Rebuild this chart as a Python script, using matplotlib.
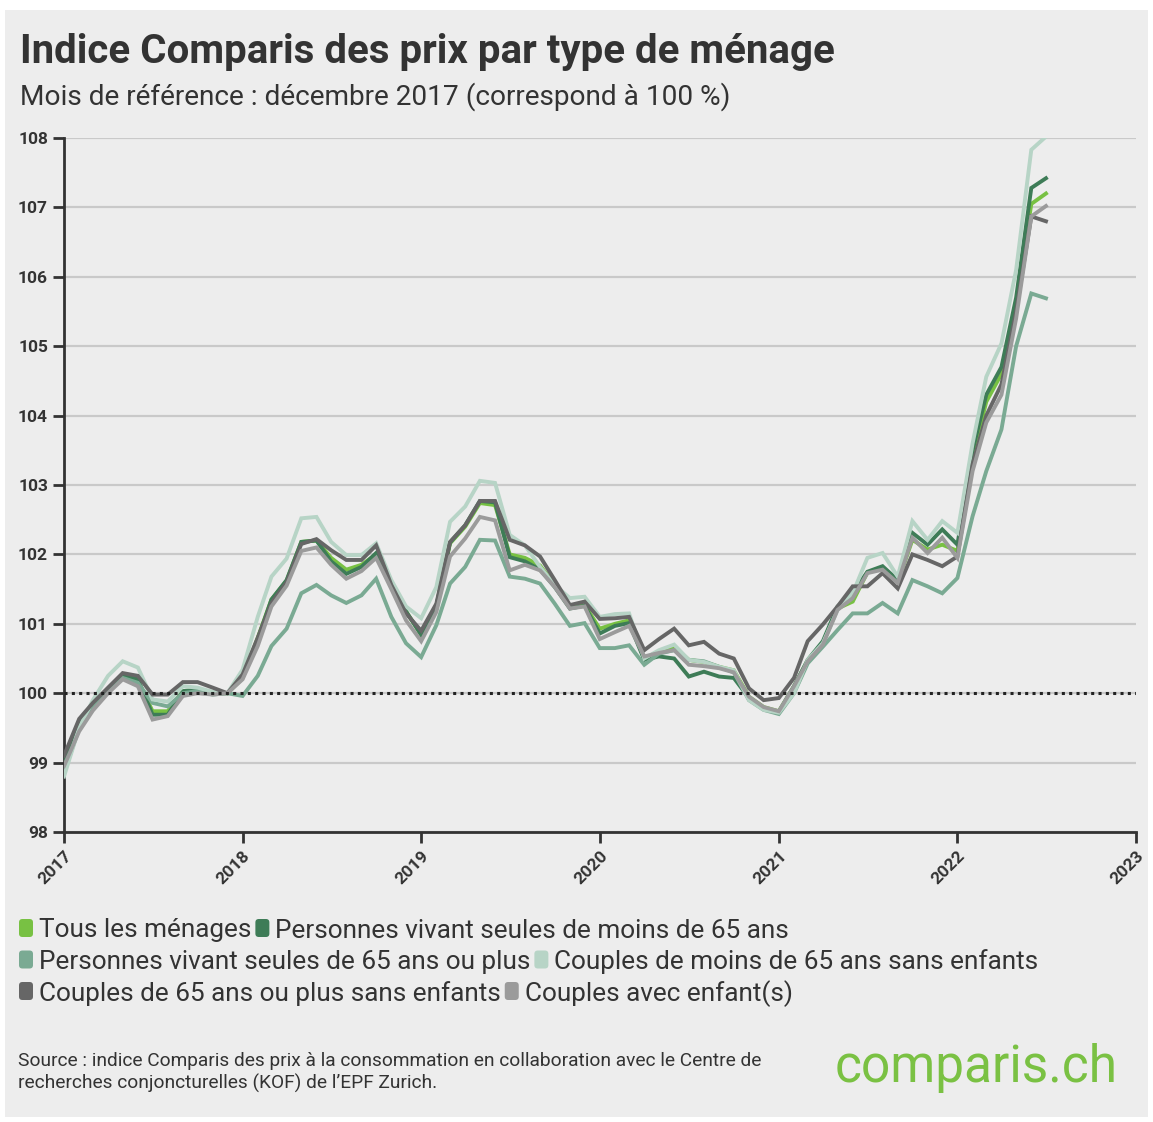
import matplotlib.pyplot as plt
import matplotlib.dates as mdates
from matplotlib.patches import Rectangle, FancyBboxPatch
import pandas as pd

plt.rcParams['font.family'] = ['Roboto', 'DejaVu Sans']

# monthly index, Jan 2017 .. Jul 2022 (Dec 2017 = 100)
months = pd.date_range('2017-01-01', '2022-07-01', freq='MS')

tous = [99.0, 99.55, 99.82, 100.05, 100.27, 100.18, 99.74, 99.74, 100.03, 100.05, 100.0, 100.0,
        100.22, 100.8, 101.35, 101.62, 102.18, 102.2, 101.95, 101.78, 101.85, 102.0, 101.55, 101.18,
        100.84, 101.25, 102.16, 102.4, 102.74, 102.71, 102.0, 101.95, 101.84, 101.56, 101.25, 101.27,
        100.93, 101.0, 101.05, 100.5, 100.6, 100.67, 100.48, 100.45, 100.38, 100.33, 99.95, 99.8,
        99.74, 100.1, 100.47, 100.72, 101.22, 101.32, 101.74, 101.8, 101.6, 102.21, 102.07, 102.14,
        102.05, 103.4, 104.2, 104.6, 105.6, 107.05, 107.2]
seules_moins65 = [99.0, 99.55, 99.82, 100.05, 100.27, 100.2, 99.69, 99.69, 100.03, 100.05, 100.0, 100.0,
                  100.22, 100.78, 101.35, 101.63, 102.18, 102.2, 101.9, 101.72, 101.82, 102.02, 101.55, 101.18,
                  100.84, 101.26, 102.17, 102.42, 102.77, 102.75, 101.96, 101.9, 101.78, 101.53, 101.22, 101.26,
                  100.86, 100.97, 101.01, 100.48, 100.53, 100.5, 100.24, 100.31, 100.24, 100.22, 99.93, 99.78,
                  99.73, 100.1, 100.48, 100.75, 101.25, 101.44, 101.75, 101.83, 101.63, 102.31, 102.14, 102.36,
                  102.14, 103.5, 104.3, 104.7, 105.7, 107.28, 107.42]
seules_65plus = [98.85, 99.5, 99.8, 100.03, 100.22, 100.15, 99.86, 99.81, 100.0, 100.03, 99.98, 100.0,
                 99.96, 100.25, 100.68, 100.93, 101.44, 101.56, 101.41, 101.3, 101.41, 101.65, 101.1, 100.72,
                 100.52, 100.98, 101.58, 101.82, 102.21, 102.2, 101.68, 101.65, 101.58, 101.29, 100.97, 101.01,
                 100.65, 100.65, 100.69, 100.41, 100.57, 100.62, 100.48, 100.46, 100.38, 100.3, 99.9, 99.76,
                 99.7, 100.0, 100.43, 100.67, 100.91, 101.15, 101.15, 101.3, 101.15, 101.63, 101.54, 101.44,
                 101.66, 102.55, 103.2, 103.8, 105.0, 105.76, 105.69]
couples_moins65 = [98.8, 99.5, 99.9, 100.25, 100.46, 100.37, 99.91, 99.88, 100.1, 100.08, 100.02, 100.0,
                   100.34, 101.1, 101.68, 101.94, 102.52, 102.54, 102.18, 101.99, 101.99, 102.16, 101.63, 101.25,
                   101.08, 101.53, 102.47, 102.69, 103.06, 103.03, 102.28, 102.13, 101.82, 101.56, 101.37, 101.39,
                   101.1, 101.14, 101.15, 100.5, 100.62, 100.7, 100.48, 100.45, 100.38, 100.33, 99.9, 99.76,
                   99.72, 100.0, 100.48, 100.72, 101.2, 101.44, 101.95, 102.02, 101.68, 102.48, 102.21, 102.48,
                   102.31, 103.6, 104.56, 105.04, 106.1, 107.83, 108.02]
couples_65plus = [99.1, 99.63, 99.86, 100.08, 100.29, 100.25, 99.98, 99.98, 100.16, 100.16, 100.08, 100.0,
                  100.27, 100.8, 101.3, 101.6, 102.15, 102.22, 102.06, 101.92, 101.92, 102.13, 101.56, 101.15,
                  100.9, 101.29, 102.18, 102.42, 102.77, 102.77, 102.21, 102.13, 101.97, 101.63, 101.27, 101.32,
                  101.07, 101.08, 101.1, 100.62, 100.78, 100.93, 100.69, 100.74, 100.57, 100.5, 100.07, 99.9,
                  99.93, 100.22, 100.75, 100.99, 101.25, 101.54, 101.54, 101.73, 101.51, 102.0, 101.92, 101.83,
                  101.97, 103.3, 104.0, 104.45, 105.5, 106.87, 106.8]
couples_enfants = [98.95, 99.45, 99.75, 100.0, 100.2, 100.1, 99.62, 99.67, 99.96, 100.0, 99.98, 100.0,
                   100.2, 100.68, 101.25, 101.55, 102.05, 102.1, 101.85, 101.65, 101.76, 101.95, 101.5, 101.05,
                   100.75, 101.17, 101.97, 102.23, 102.54, 102.49, 101.77, 101.85, 101.77, 101.53, 101.22, 101.25,
                   100.78, 100.88, 100.97, 100.53, 100.58, 100.62, 100.41, 100.39, 100.36, 100.3, 99.95, 99.8,
                   99.74, 100.1, 100.46, 100.7, 101.2, 101.37, 101.73, 101.78, 101.59, 102.24, 102.02, 102.24,
                   101.95, 103.2, 103.9, 104.3, 105.4, 106.87, 107.02]

labels = ['Tous les ménages', 'Personnes vivant seules de moins de 65 ans',
          'Personnes vivant seules de 65 ans ou plus', 'Couples de moins de 65 ans sans enfants',
          'Couples de 65 ans ou plus sans enfants', 'Couples avec enfant(s)']
colors = ['#78c143', '#3e7c57', '#7aaa93', '#b7d4c6', '#666666', '#9b9b9b']
series = [tous, seules_moins65, seules_65plus, couples_moins65, couples_65plus, couples_enfants]

W, H = 1153, 1122
fig = plt.figure(figsize=(W / 100, H / 100), dpi=100, facecolor='white')
fig.patches.append(Rectangle((5 / W, 5 / H), 1143 / W, 1107 / H, transform=fig.transFigure,
                             facecolor='#ededed', edgecolor='none', zorder=-10))

ax = fig.add_axes([64 / W, 1 - 832 / H, (1136 - 64) / W, (832 - 138) / H])
ax.set_facecolor('none')
for vals, c in zip(series, colors):
    ax.plot(months, vals, color=c, lw=2.8, solid_joinstyle='miter', zorder=3)
ax.axhline(100, color='#222222', lw=2.2, ls=(0, (1, 1.4)), zorder=5)

ax.set_ylim(98, 108)
ax.set_xlim(pd.Timestamp('2017-01-01'), pd.Timestamp('2023-01-01'))
ax.set_yticks(range(98, 109))
ax.yaxis.grid(True, color='#c9c9c9', lw=1.6)
ax.set_axisbelow(True)
ax.xaxis.set_major_locator(mdates.YearLocator())
ax.xaxis.set_major_formatter(mdates.DateFormatter('%Y'))
for s in ['top', 'right']:
    ax.spines[s].set_visible(False)
for s in ['left', 'bottom']:
    ax.spines[s].set_color('#333333')
    ax.spines[s].set_linewidth(2)
ax.tick_params(length=8, width=2, color='#333333', labelcolor='#333333', labelsize=12.5)
for t in ax.get_yticklabels():
    t.set_fontweight('bold')
for t in ax.get_xticklabels():
    t.set_fontweight('bold')
    t.set_rotation(45)
    t.set_ha('right')
    t.set_rotation_mode('anchor')

fig.text(20 / W, 1 - 63 / H, 'Indice Comparis des prix par type de ménage', fontsize=29,
         fontweight='bold', color='#333333', va='baseline')
fig.text(20 / W, 1 - 105 / H, 'Mois de référence : décembre 2017 (correspond à 100 %)', fontsize=20.2,
         color='#333333', va='baseline')

# legend, flowing left to right
fig.canvas.draw()
r = fig.canvas.get_renderer()
rows = [[0, 1], [2, 3], [4, 5]]
for ri, row in enumerate(rows):
    x = 19
    yc = 928 + 31.5 * ri
    for k in row:
        fig.patches.append(FancyBboxPatch(((x) / W, 1 - (yc + 9) / H), 14 / W, 18 / H,
                                          boxstyle='round,pad=0,rounding_size=0.003',
                                          transform=fig.transFigure, facecolor=colors[k],
                                          edgecolor='none'))
        t = fig.text((x + 20) / W, 1 - yc / H, labels[k], fontsize=18.8, color='#333333',
                     va='center_baseline')
        bb = t.get_window_extent(r)
        x = bb.x1 + 4

fig.text(18 / W, 1 - 1066 / H, 'Source : indice Comparis des prix à la consommation en collaboration avec le Centre de',
         fontsize=13.8, color='#333333', va='baseline')
fig.text(18 / W, 1 - 1089 / H, 'recherches conjoncturelles (KOF) de l\u2019EPF Zurich.',
         fontsize=13.8, color='#333333', va='baseline')
fig.text(1118 / W, 1 - 1082 / H, 'comparis.ch', fontsize=37, color='#7ac143', ha='right',
         va='baseline')

fig.savefig('out.png', dpi=100, facecolor='white')
